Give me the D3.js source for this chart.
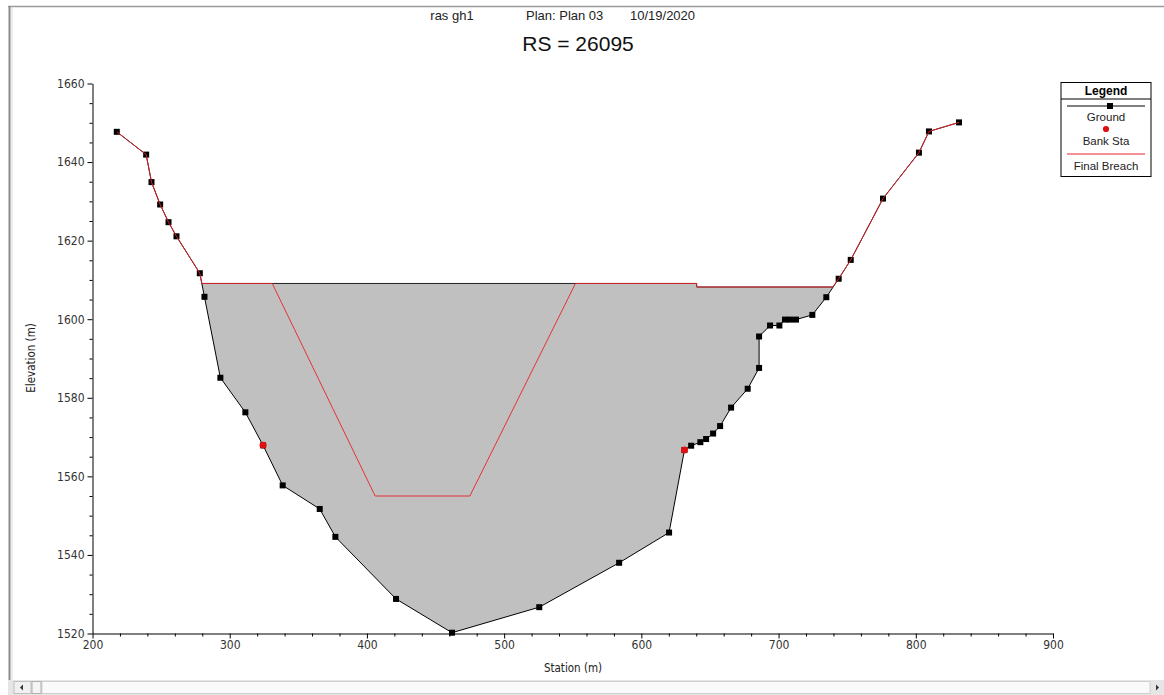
<!DOCTYPE html>
<html>
<head>
<meta charset="utf-8">
<script src="https://cdn.jsdelivr.net/npm/d3@7"></script>
<style>
  html, body { margin: 0; padding: 0; background: #fff; }
  svg { display: block; font-family: "Liberation Sans", Arial, sans-serif; }
</style>
</head>
<body>
<svg id="chart" width="1164" height="695"></svg>
<script>
// Cross section RS 26095 — ground survey points (station m, elevation m)
const groundStation = [217.7, 239.1, 243.0, 249.3, 255.4, 261.2, 278.2, 281.6, 293.2, 311.4,
  324.3, 338.6, 365.6, 377.0, 421.2, 462.0, 525.6, 583.8, 620.2, 631.4,
  636.3, 643.0, 647.2, 652.3, 657.4, 665.4, 677.5, 685.8, 685.8, 693.8,
  700.6, 704.7, 708.4, 712.7, 724.6, 734.8, 743.8, 752.6, 776.1, 802.3,
  809.6, 831.5];
const groundElev = [1647.7, 1641.9, 1634.9, 1629.2, 1624.7, 1621.1, 1611.7, 1605.7, 1585.1, 1576.3,
  1567.9, 1557.7, 1551.7, 1544.6, 1528.8, 1520.2, 1526.7, 1538.0, 1545.7, 1566.7,
  1567.8, 1568.7, 1569.5, 1570.9, 1572.8, 1577.5, 1582.3, 1587.6, 1595.6, 1598.4,
  1598.4, 1599.9, 1599.9, 1599.9, 1601.1, 1605.6, 1610.3, 1615.1, 1630.7, 1642.4,
  1647.8, 1650.1];

// Bank stations
const bankStation = [324.3, 631.4];
const bankElev = [1567.9, 1566.7];

// Embankment crest (inline structure top)
const crestStation = [279.7, 640.3, 640.3, 739.4];
const crestElev = [1609.1, 1609.1, 1608.2, 1608.2];

// Final breach trapezoid
const breachStation = [331.0, 406.0, 475.0, 552.0];
const breachElev = [1609.1, 1555.0, 1555.0, 1609.1];

// Axis ticks
const xTicks = [200, 300, 400, 500, 600, 700, 800, 900];
const yTicks = [1520, 1540, 1560, 1580, 1600, 1620, 1640, 1660];

const legendItems = ["Ground", "Bank Sta", "Final Breach"];

const svg = d3.select("#chart");
const W = 1164, H = 695;

svg.append("rect").attr("width", W).attr("height", H).attr("fill", "#fff");

// Window frame
svg.append("line").attr("x1", 8).attr("x2", W).attr("y1", 6.5).attr("y2", 6.5)
  .attr("stroke", "#9a9a9a").attr("stroke-width", 1.5);
svg.append("line").attr("x1", 9.5).attr("x2", 9.5).attr("y1", 6).attr("y2", 681)
  .attr("stroke", "#8a8a8a").attr("stroke-width", 2);
svg.append("line").attr("x1", 12).attr("x2", 12).attr("y1", 7).attr("y2", 680)
  .attr("stroke", "#d8d8d8").attr("stroke-width", 1);

// Horizontal scrollbar
const sb = svg.append("g");
sb.append("rect").attr("x", 8).attr("y", 680).attr("width", W - 8).attr("height", 15).attr("fill", "#e6e6e6");
sb.append("rect").attr("x", 42).attr("y", 681.5).attr("width", W - 56).attr("height", 12).attr("fill", "#fafafa")
  .attr("stroke", "#d0d0d0");
sb.append("rect").attr("x", 14).attr("y", 681.5).attr("width", 17).attr("height", 12).attr("fill", "#f0f0f0")
  .attr("stroke", "#c0c0c0");
sb.append("rect").attr("x", 32).attr("y", 681.5).attr("width", 9).attr("height", 12).attr("fill", "#f4f4f4")
  .attr("stroke", "#b0b0b0");
sb.append("path").attr("d", "M20,687.5 L23,684.5 L23,690.5 Z").attr("fill", "#333");
sb.append("path").attr("d", "M1159,687.5 L1156,684.5 L1156,690.5 Z").attr("fill", "#333");

// Scales
const x = d3.scaleLinear().domain([200, 900]).range([92.5, 1053]);
const y = d3.scaleLinear().domain([1520, 1660]).range([633.5, 83.5]);

const ground = groundStation.map((s, i) => [s, groundElev[i]]);
const crest = crestStation.map((s, i) => [s, crestElev[i]]);
const breach = breachStation.map((s, i) => [s, breachElev[i]]);

const line = d3.line().x(d => x(d[0])).y(d => y(d[1]));

// Embankment body: crest on top, ground beneath
const cL = crestStation[0], cR = crestStation[crestStation.length - 1];
const bodyPoly = crest.concat(
  ground.filter(d => d[0] > cL && d[0] < cR).reverse()
);
svg.append("path").attr("d", line(bodyPoly) + "Z").attr("fill", "#c0c0c0").attr("stroke", "none");
svg.append("path").attr("d", line(crest)).attr("fill", "none").attr("stroke", "#222").attr("stroke-width", 1);

// Axes
const gy = svg.append("g").attr("transform", "translate(92.5,0)");
gy.call(d3.axisLeft(y).tickValues(yTicks).tickSize(5).tickSizeOuter(0).tickPadding(3).tickFormat(d3.format("d")));
gy.append("g").call(d3.axisLeft(y).tickValues(d3.range(1520, 1661, 5).filter(v => v % 20 !== 0))
  .tickSize(3).tickFormat("")).select(".domain").remove();

const gx = svg.append("g").attr("transform", "translate(0,633.5)");
gx.call(d3.axisBottom(x).tickValues(xTicks).tickSize(5).tickSizeOuter(0).tickPadding(2).tickFormat(d3.format("d")));
gx.append("g").call(d3.axisBottom(x).tickValues(d3.range(200, 901, 20).filter(v => v % 100 !== 0))
  .tickSize(3).tickFormat("")).select(".domain").remove();

svg.selectAll(".tick text").attr("font-size", 12).attr("fill", "#333")
  .attr("font-family", "'DejaVu Sans Condensed', 'Liberation Sans Narrow', sans-serif");
svg.selectAll(".domain, .tick line").attr("stroke", "#000");

// Axis titles
svg.append("text").attr("x", 573).attr("y", 672).attr("text-anchor", "middle")
  .attr("font-size", 11.5).attr("fill", "#222")
  .attr("font-family", "'DejaVu Sans Condensed', sans-serif").text("Station (m)");
svg.append("text").attr("transform", "translate(35,358) rotate(-90)").attr("text-anchor", "middle")
  .attr("font-size", 11.5).attr("fill", "#222")
  .attr("font-family", "'DejaVu Sans Condensed', sans-serif").text("Elevation (m)");

// Ground profile
svg.append("path").attr("d", line(ground)).attr("fill", "none").attr("stroke", "#000").attr("stroke-width", 1);
svg.selectAll(".gpt").data(ground).join("rect").attr("class", "gpt")
  .attr("x", d => x(d[0]) - 3).attr("y", d => y(d[1]) - 3)
  .attr("width", 6).attr("height", 6).attr("fill", "#000");

// Final breach profile: ground outside the crest, crest with breach cut
const breachProfile = ground.filter(d => d[0] < cL)
  .concat([crest[0]], breach, crest.slice(1))
  .concat(ground.filter(d => d[0] > cR));
svg.append("path").attr("d", line(breachProfile)).attr("fill", "none")
  .attr("stroke", "#e8222a").attr("stroke-width", 1).attr("stroke-opacity", 0.9);

// Bank stations
const bank = bankStation.map((s, i) => [s, bankElev[i]]);
svg.selectAll(".bpt").data(bank).join("path").attr("class", "bpt")
  .attr("transform", d => `translate(${x(d[0])},${y(d[1])})`)
  .attr("d", d3.symbol().type(d3.symbolCircle).size(38))
  .attr("fill", "#e01010");

// Titles
const tfont = "'Liberation Sans', Arial, sans-serif";
svg.append("text").attr("x", 452).attr("y", 20).attr("text-anchor", "middle")
  .attr("font-size", 13).attr("font-family", tfont).attr("fill", "#222").text("ras gh1");
svg.append("text").attr("x", 526).attr("y", 20)
  .attr("font-size", 13).attr("font-family", tfont).attr("fill", "#222").text("Plan: Plan 03");
svg.append("text").attr("x", 630).attr("y", 20)
  .attr("font-size", 13).attr("font-family", tfont).attr("fill", "#222").text("10/19/2020");
svg.append("text").attr("x", 578).attr("y", 51).attr("text-anchor", "middle")
  .attr("font-size", 21).attr("font-family", tfont).attr("fill", "#111").text("RS = 26095");

// Legend
const lg = svg.append("g").attr("transform", "translate(1061,82.5)");
lg.append("rect").attr("width", 90).attr("height", 94).attr("fill", "#fff").attr("stroke", "#000");
lg.append("text").attr("x", 45).attr("y", 12).attr("text-anchor", "middle").attr("font-weight", "bold")
  .attr("font-size", 12).attr("font-family", tfont).text("Legend");
lg.append("line").attr("x1", 0).attr("x2", 90).attr("y1", 16.5).attr("y2", 16.5).attr("stroke", "#000");
lg.append("line").attr("x1", 6).attr("x2", 84).attr("y1", 23.5).attr("y2", 23.5).attr("stroke", "#000");
lg.append("rect").attr("x", 46).attr("y", 20.5).attr("width", 6).attr("height", 6).attr("fill", "#000");
lg.append("path").attr("transform", "translate(45,46.5)")
  .attr("d", d3.symbol().type(d3.symbolCircle).size(30)).attr("fill", "#e01010");
lg.append("line").attr("x1", 6).attr("x2", 84).attr("y1", 71.5).attr("y2", 71.5).attr("stroke", "#e8222a");
lg.selectAll(".li").data(legendItems).join("text").attr("class", "li")
  .attr("x", 45).attr("y", (d, i) => [38, 62, 87][i]).attr("text-anchor", "middle")
  .attr("font-size", 11.5).attr("font-family", tfont).attr("fill", "#222").text(d => d);
</script>
</body>
</html>
